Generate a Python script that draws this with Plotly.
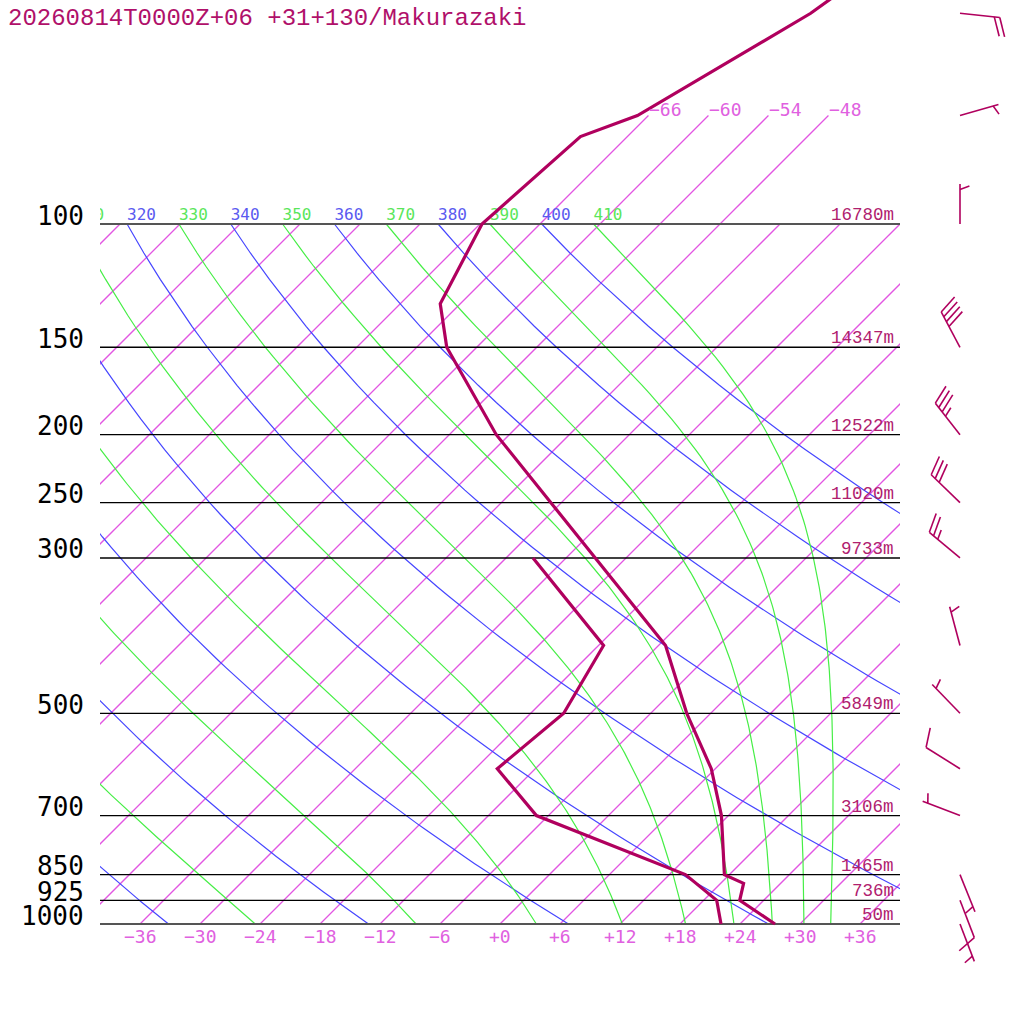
import numpy as np
import plotly.graph_objects as go

# Skew-T sounding, Makurazaki
title = "20260814T0000Z+06 +31+130/Makurazaki"

# temperature profile (hPa, degC)
temp_p = [1000, 925, 875, 850, 700, 600, 500, 400, 200, 150, 130, 100, 75, 70, 50, 30]
temp_c = [27.5, 21.6, 20.3, 17.5, 11.3, 5.6, -2.4, -11.3, -49.3, -63.0, -68.0, -71.8, -70.7, -67.1, -60.0, -54.0]

# dewpoint profile
dew_p = [1000, 925, 850, 700, 600, 500, 400, 300]
dew_c = [22.1, 19.3, 13.6, -7.2, -15.8, -14.7, -17.5, -33.3]

# standard levels and heights
level_p = [1000, 925, 850, 700, 500, 300, 250, 200, 150, 100]
level_lbl = ["1000", "925", "850", "700", "500", "300", "250", "200", "150", "100"]
level_hgt = ["50m", "736m", "1465m", "3106m", "5849m", "9733m", "11020m", "12522m", "14347m", "16780m"]

# winds (direction deg, speed kt)
wind_p = [1000, 925, 850, 700, 600, 500, 400, 300, 250, 200, 150, 100, 70, 50]
wind_dir = [159, 159, 158, 291, 302, 316, 345, 310, 314, 322, 332, 0, 74, 96]
wind_kt = [5, 10, 5, 5, 10, 5, 5, 25, 30, 35, 40, 5, 5, 20]

# background lines
isotherms = list(range(-108, 37, 6))
upper_isotherms = [-66, -60, -54, -48]
temp_ticks = list(range(-36, 37, 6))
dry_theta = list(range(200, 401, 20))
moist_theta = list(range(230, 411, 20))

# geometry / constants
PX_DECADE = 700.0
SKEW = PX_DECADE / np.log(10) / 10.0   # 10 px per degree
Y_TOP = 3 - 924 / PX_DECADE
Y_BOT = 3 + 100 / PX_DECADE
RD, CP, LV, EPS = 287.04, 1005.7, 2.501e6, 0.622
KAPPA = RD / CP

C_PROF = "rgb(176,0,94)"
C_ISO = "rgb(226,86,226)"
C_ISO_TXT = "rgb(224,96,224)"
C_DRY = "rgb(70,70,255)"
C_MOIST = "rgb(70,238,70)"


def skx(t, p):
    return np.asarray(t) + SKEW * np.log(1000.0 / np.asarray(p))


def lapse(t, p):
    tc = t - 273.15
    es = 6.112 * np.exp(17.67 * tc / (tc + 243.5))
    rs = EPS * es / (p - es)
    return (RD * t + LV * rs) / (CP + LV * LV * rs * EPS / (RD * t * t)) / p


def moist_line(theta):
    ps = np.linspace(100, 1000, 181)
    t = theta * 0.1 ** KAPPA
    out = [t]
    for p0, p1 in zip(ps[:-1], ps[1:]):
        h = p1 - p0
        k1 = lapse(t, p0)
        k2 = lapse(t + h * k1 / 2, p0 + h / 2)
        k3 = lapse(t + h * k2 / 2, p0 + h / 2)
        k4 = lapse(t + h * k3, p1)
        t = t + h * (k1 + 2 * k2 + 2 * k3 + k4) / 6
        out.append(t)
    return ps, np.array(out) - 273.15


fig = go.Figure()


def add_lines(xs, ys, color, width, xaxis="x"):
    fig.add_trace(go.Scatter(x=xs, y=ys, mode="lines", xaxis=xaxis, yaxis="y",
                             line=dict(color=color, width=width),
                             hoverinfo="skip", showlegend=False))


# isotherms, one trace each
for t in isotherms:
    ptop = 70 if t in upper_isotherms else 100
    add_lines([float(skx(t, 1000)), float(skx(t, ptop))], [1000, ptop], C_ISO, 1.3)

# dry adiabats
pp = np.linspace(100, 1000, 91)
xs, ys = [], []
for th in dry_theta:
    tt = th * (pp / 1000.0) ** KAPPA - 273.15
    xs += [float(v) for v in skx(tt, pp)] + [None]
    ys += [float(v) for v in pp] + [None]
add_lines(xs, ys, C_DRY, 1.2)

# moist adiabats
xs, ys = [], []
moist_top = []
for th in moist_theta:
    mp, mt = moist_line(th)
    xs += [float(v) for v in skx(mt, mp)] + [None]
    ys += [float(v) for v in mp] + [None]
    moist_top.append(float(skx(mt[0], 100)))
add_lines(xs, ys, C_MOIST, 1.2)

# theta labels at 100 hPa (clipped to plot area)
dry_top = [float(skx(th * 0.1 ** KAPPA - 273.15, 100)) for th in dry_theta]
fig.add_trace(go.Scatter(x=dry_top, y=[100] * len(dry_top), mode="text",
                         text=[str(v) for v in dry_theta], textposition="top right",
                         textfont=dict(family="DejaVu Sans Mono", size=16, color="rgb(90,90,240)"),
                         cliponaxis=True, hoverinfo="skip", showlegend=False))
fig.add_trace(go.Scatter(x=moist_top, y=[100] * len(moist_top), mode="text",
                         text=[str(v) for v in moist_theta], textposition="top right",
                         textfont=dict(family="DejaVu Sans Mono", size=16, color="rgb(90,230,90)"),
                         cliponaxis=True, hoverinfo="skip", showlegend=False))

# pressure levels
xs, ys = [], []
for p in level_p:
    if p in (100, 1000):
        continue
    xs += [-40, 40, None]
    ys += [p, p, None]
add_lines(xs, ys, "#000000", 1.3)
add_lines([-40, 40, None, -40, 40], [100, 100, None, 1000, 1000], "#555555", 2)

# profiles
add_lines([float(v) for v in skx(dew_c, dew_p)], dew_p, C_PROF, 3.2)
add_lines([float(v) for v in skx(temp_c, temp_p)], temp_p, C_PROF, 3.2)

# wind barbs (x2 axis is in pixels, y is the pressure axis)
BARB_X, STAFF, SPACING, FULL, HALF = 960.0, 40.0, 5.5, 20.0, 10.0
ang = np.radians(70)
bx_all, by_all = [], []
for p, d, s in zip(wind_p, wind_dir, wind_kt):
    r = np.radians(d)
    ux, uy = np.sin(r), np.cos(r)
    vx = ux * np.cos(ang) + uy * np.sin(ang)
    vy = -ux * np.sin(ang) + uy * np.cos(ang)

    def pt(dx, dy):
        return BARB_X + dx, p * 10 ** (-dy / PX_DECADE)

    segs = [((0, 0), (STAFF * ux, STAFF * uy))]
    nfull, half = s // 10, (s % 10) >= 5
    for i in range(nfull):
        a = STAFF - i * SPACING
        segs.append(((a * ux, a * uy), (a * ux + FULL * vx, a * uy + FULL * vy)))
    if half:
        a = STAFF - max(nfull, 1) * SPACING
        segs.append(((a * ux, a * uy), (a * ux + HALF * vx, a * uy + HALF * vy)))
    for (x0, y0), (x1, y1) in segs:
        for q in (pt(x0, y0), pt(x1, y1)):
            bx_all.append(float(q[0]))
            by_all.append(float(q[1]))
        bx_all.append(None)
        by_all.append(None)
add_lines(bx_all, by_all, C_PROF, 1.6, xaxis="x2")

# labels
ann = []
for p, lbl, h in zip(level_p, level_lbl, level_hgt):
    ann.append(dict(x=86, y=np.log10(p), xref="x2", yref="y", text=lbl, showarrow=False,
                    xanchor="right", yanchor="bottom", yshift=-8.5,
                    font=dict(family="DejaVu Sans Mono", size=26, color="#000000")))
    ann.append(dict(x=39.6, y=np.log10(p), xref="x", yref="y", text=h, showarrow=False,
                    xanchor="right", yanchor="bottom", yshift=-3,
                    font=dict(family="Liberation Mono", size=17.5, color="rgb(176,32,110)")))
for t in temp_ticks:
    lbl = ("+%d" % t) if t >= 0 else ("\u2212%d" % -t)
    ann.append(dict(x=t, y=3, xref="x", yref="y", text=lbl, showarrow=False,
                    xanchor="center", yanchor="top", yshift=0,
                    font=dict(family="DejaVu Sans Mono", size=18, color=C_ISO_TXT)))
for t in upper_isotherms:
    ann.append(dict(x=float(skx(t, 70)), y=np.log10(70), xref="x", yref="y",
                    text="\u2212%d" % -t, showarrow=False, xanchor="left", yanchor="bottom",
                    xshift=-1, yshift=-6,
                    font=dict(family="DejaVu Sans Mono", size=18, color=C_ISO_TXT)))
ann.append(dict(x=6 / 1024, y=1, xref="paper", yref="paper", text=title, showarrow=False,
                xanchor="left", yanchor="top", yshift=-3,
                font=dict(family="Liberation Mono", size=24, color="rgb(176,16,106)")))

fig.update_layout(
    width=1024, height=1024,
    margin=dict(l=0, r=0, t=0, b=0),
    paper_bgcolor="white", plot_bgcolor="rgba(0,0,0,0)",
    showlegend=False,
    xaxis=dict(domain=[100 / 1024, 900 / 1024], range=[-40, 40], visible=False, anchor="y"),
    xaxis2=dict(domain=[0, 1], range=[0, 1024], visible=False, anchor="y"),
    yaxis=dict(type="log", domain=[0, 1], range=[Y_BOT, Y_TOP], visible=False, anchor="x"),
    annotations=ann,
)

fig.write_html("out.html", config={"displayModeBar": False},
               post_script="document.body.style.margin='0';")
